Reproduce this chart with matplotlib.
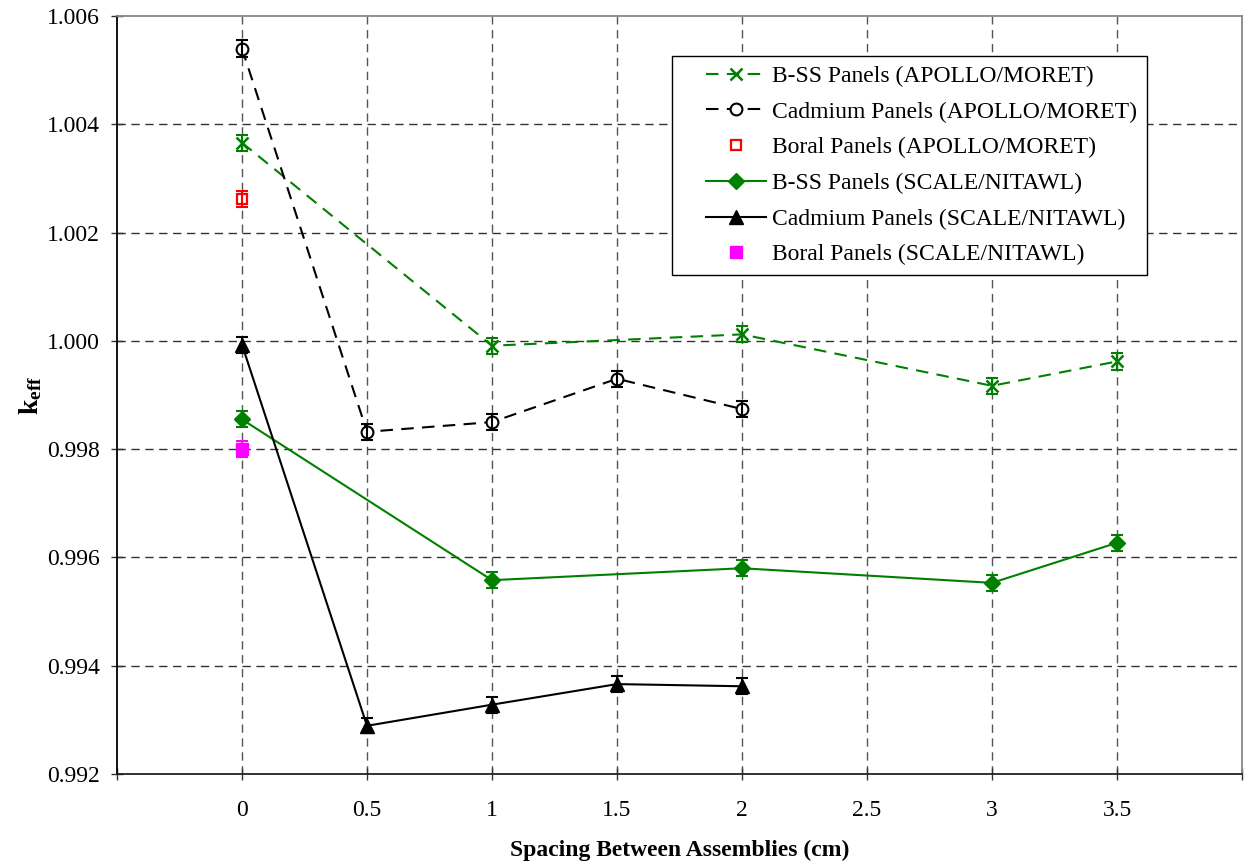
import matplotlib
matplotlib.use("Agg")
import matplotlib.pyplot as plt
from matplotlib.ticker import FixedLocator, FuncFormatter
from matplotlib.legend_handler import HandlerLine2D
from matplotlib.lines import Line2D

plt.rcParams['font.family'] = ['Liberation Serif', 'DejaVu Serif']
plt.rcParams['mathtext.fontset'] = 'custom'
plt.rcParams['mathtext.rm'] = 'Liberation Serif'
plt.rcParams['mathtext.bf'] = 'Liberation Serif:bold'
plt.rcParams['mathtext.it'] = 'Liberation Serif:italic'

# ---- data ----
x_bss_apollo = [0, 1, 2, 3, 3.5]
y_bss_apollo = [1.00366, 0.99991, 1.00012, 0.99917, 0.99962]
e_bss_apollo = [0.00015, 0.00015, 0.00015, 0.00015, 0.00015]

x_cd_apollo = [0, 0.5, 1, 1.5, 2]
y_cd_apollo = [1.00540, 0.99832, 0.99850, 0.99930, 0.99874]
e_cd_apollo = [0.00015, 0.00015, 0.00015, 0.00015, 0.00015]

x_boral_apollo = [0]
y_boral_apollo = [1.00262]
e_boral_apollo = [0.00015]

x_bss_scale = [0, 1, 2, 3, 3.5]
y_bss_scale = [0.99855, 0.99558, 0.99580, 0.99553, 0.99627]
e_bss_scale = [0.00015, 0.00015, 0.00015, 0.00015, 0.00015]

x_cd_scale = [0, 0.5, 1, 1.5, 2]
y_cd_scale = [0.99993, 0.99289, 0.99328, 0.99366, 0.99362]
e_cd_scale = [0.00015, 0.00014, 0.00015, 0.00015, 0.00015]

x_boral_scale = [0]
y_boral_scale = [0.99800]
e_boral_scale = [0.00015]

labels = ['B-SS Panels (APOLLO/MORET)', 'Cadmium Panels (APOLLO/MORET)',
          'Boral Panels (APOLLO/MORET)', 'B-SS Panels (SCALE/NITAWL)',
          'Cadmium Panels (SCALE/NITAWL)', 'Boral Panels (SCALE/NITAWL)']

x_ticks = [-0.5, 0, 0.5, 1, 1.5, 2, 2.5, 3, 3.5, 4]
x_labeled = [0, 0.5, 1, 1.5, 2, 2.5, 3, 3.5]
y_ticks = [0.992, 0.994, 0.996, 0.998, 1.000, 1.002, 1.004, 1.006]

fig = plt.figure(figsize=(12.46, 8.67), dpi=100)
ax = fig.add_axes([0.0939, 0.1073, 0.9029, 0.8742])

green = '#008000'
lw = 1.5
cap = 4.5
dash = (0, (6, 4))

handles = []
h, = ax.plot(x_bss_apollo, y_bss_apollo, color=green, lw=lw, linestyle=dash,
             marker='x', ms=9, mew=1.8, label=labels[0], zorder=3)
handles.append(h)
ax.errorbar(x_bss_apollo, y_bss_apollo, yerr=e_bss_apollo, fmt='none',
            ecolor=green, elinewidth=1.5, capsize=cap, capthick=1.5, zorder=3)

h, = ax.plot(x_cd_apollo, y_cd_apollo, color='black', lw=lw, linestyle=dash,
             marker='o', ms=8.5, mfc='white', mec='black', mew=1.5,
             label=labels[1], zorder=3)
handles.append(h)
ax.errorbar(x_cd_apollo, y_cd_apollo, yerr=e_cd_apollo, fmt='none',
            ecolor='black', elinewidth=1.5, capsize=cap, capthick=1.5, zorder=4)

h, = ax.plot(x_boral_apollo, y_boral_apollo, linestyle='none', marker='s',
             ms=7.5, mfc='white', mec='red', mew=1.6, label=labels[2], zorder=3)
handles.append(h)
ax.errorbar(x_boral_apollo, y_boral_apollo, yerr=e_boral_apollo, fmt='none',
            ecolor='red', elinewidth=1.5, capsize=cap, capthick=1.5, zorder=4)

h, = ax.plot(x_bss_scale, y_bss_scale, color=green, lw=lw, linestyle='-',
             marker='D', ms=8, mfc=green, mec=green, label=labels[3], zorder=3)
handles.append(h)
ax.errorbar(x_bss_scale, y_bss_scale, yerr=e_bss_scale, fmt='none',
            ecolor=green, elinewidth=1.5, capsize=cap, capthick=1.5, zorder=3)

h, = ax.plot(x_cd_scale, y_cd_scale, color='black', lw=lw, linestyle='-',
             marker='^', ms=10, mfc='black', mec='black', label=labels[4], zorder=3)
handles.append(h)
ax.errorbar(x_cd_scale, y_cd_scale, yerr=e_cd_scale, fmt='none',
            ecolor='black', elinewidth=1.5, capsize=cap, capthick=1.5, zorder=3)

h, = ax.plot(x_boral_scale, y_boral_scale, linestyle='none', marker='s',
             ms=8.5, mfc='magenta', mec='magenta', label=labels[5], zorder=3)
handles.append(h)
ax.errorbar(x_boral_scale, y_boral_scale, yerr=e_boral_scale, fmt='none',
            ecolor='magenta', elinewidth=1.5, capsize=cap, capthick=1.5, zorder=3)

ax.set_xlim(-0.5, 4.0)
ax.set_ylim(0.992, 1.006)

ax.xaxis.set_major_locator(FixedLocator(x_ticks))
ax.xaxis.set_major_formatter(FuncFormatter(
    lambda v, p: ('%g' % v) if any(abs(v - t) < 1e-9 for t in x_labeled) else ''))
ax.yaxis.set_major_locator(FixedLocator(y_ticks))
ax.yaxis.set_major_formatter(FuncFormatter(lambda v, p: '%.3f' % v))

ax.tick_params(axis='both', direction='inout', length=9, width=1.0,
               labelsize=17, color='#333333')
ax.tick_params(axis='x', pad=14)
ax.tick_params(axis='y', pad=8)

for v in x_labeled:
    ax.axvline(v, color='#555555', lw=1.0, linestyle=(0, (6, 4)), zorder=1)
for v in y_ticks[1:-1]:
    ax.axhline(v, color='#333333', lw=1.0, linestyle=(0, (6, 4)), zorder=1)

ax.spines['left'].set_color('black')
ax.spines['bottom'].set_color('#222222')
ax.spines['top'].set_color('#888888')
ax.spines['right'].set_color('#888888')
for s in ax.spines.values():
    s.set_linewidth(1.3)

ax.set_xlabel('Spacing Between Assemblies (cm)', fontsize=17, fontweight='bold',
              labelpad=14)
ax.set_ylabel(r'$\mathbf{k_{eff}}$', fontsize=20, labelpad=2)

leg = ax.legend(handles=handles, loc='upper left', bbox_to_anchor=(0.4933, 0.9472),
                fontsize=17, frameon=True, fancybox=False, edgecolor='black',
                framealpha=1, handlelength=3.6, handletextpad=0.25,
                labelspacing=0.6, borderpad=0.4, borderaxespad=0,
                handler_map={Line2D: HandlerLine2D(xpad=1.05)})
leg.get_frame().set_linewidth(1.0)

fig.savefig('out.png', dpi=100)
